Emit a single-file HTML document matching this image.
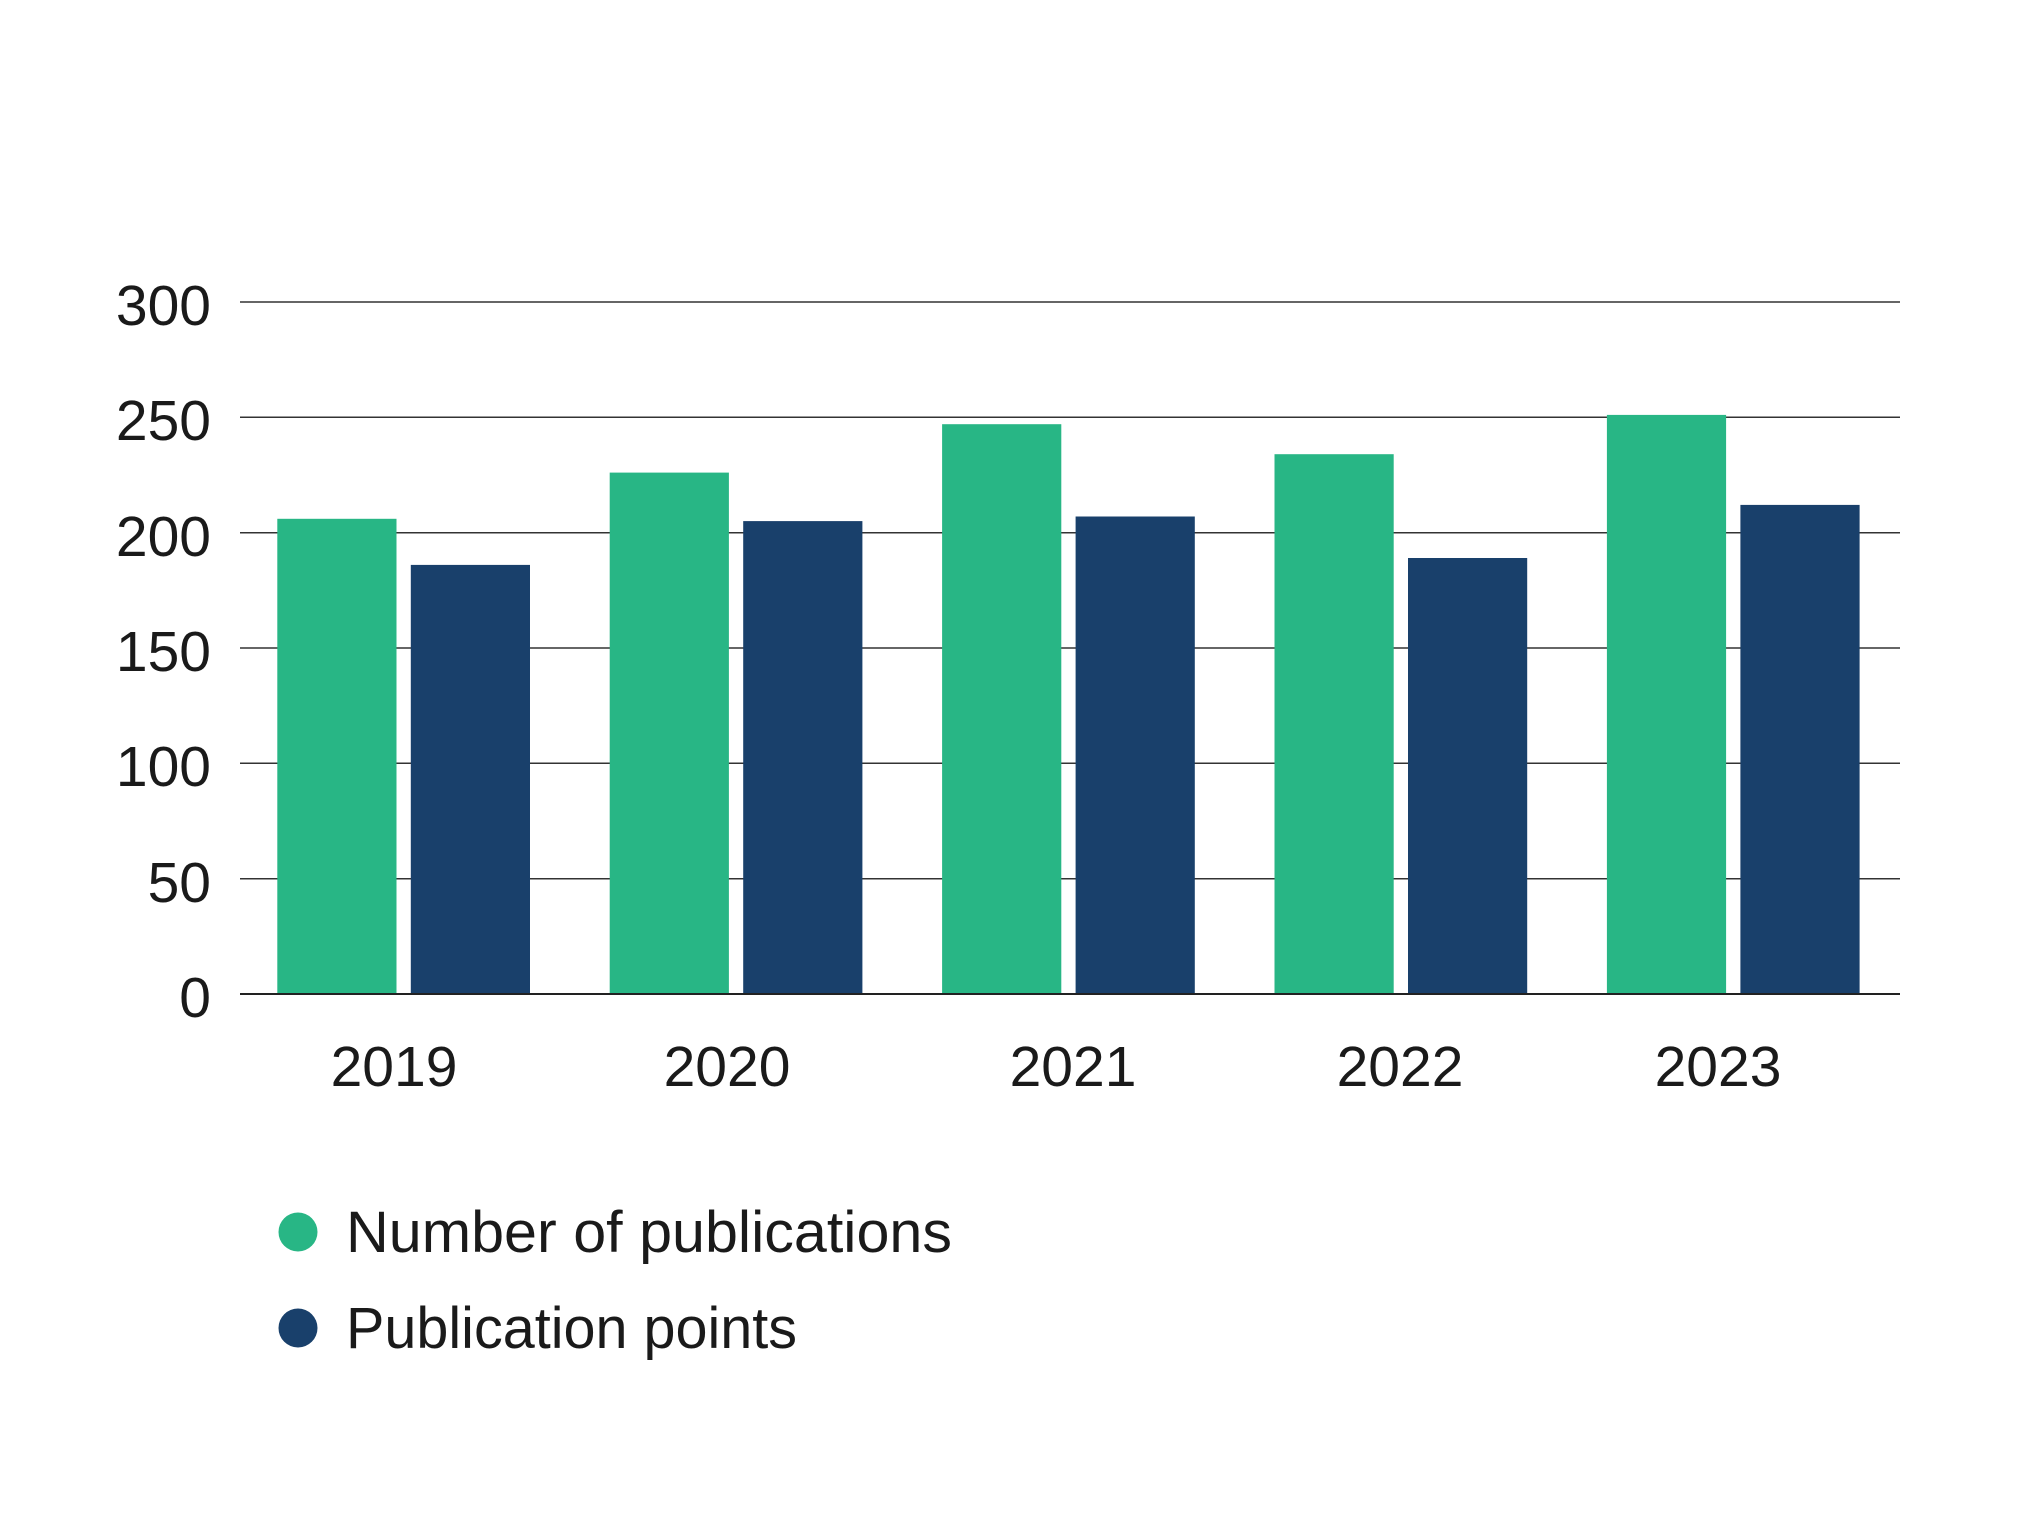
<!DOCTYPE html>
<html><head><style>html,body{margin:0;padding:0;background:#fff}svg{display:block}</style></head>
<body>
<svg width="2031" height="1533" xmlns="http://www.w3.org/2000/svg" font-family="'Liberation Sans', sans-serif" fill="#1a1a1a">
<g stroke="#333" stroke-width="1.5">
<line x1="240" x2="1900" y1="302" y2="302"/>
<line x1="240" x2="1900" y1="417.3" y2="417.3"/>
<line x1="240" x2="1900" y1="532.7" y2="532.7"/>
<line x1="240" x2="1900" y1="648" y2="648"/>
<line x1="240" x2="1900" y1="763.3" y2="763.3"/>
<line x1="240" x2="1900" y1="878.7" y2="878.7"/>
</g>
<g fill="#28b685">
<rect x="277.3" y="518.8" width="119.2" height="475.2"/>
<rect x="609.7" y="472.6" width="119.2" height="521.4"/>
<rect x="942.1" y="424.2" width="119.2" height="569.8"/>
<rect x="1274.5" y="454.2" width="119.2" height="539.8"/>
<rect x="1606.9" y="414.9" width="119.2" height="579.1"/>
</g>
<g fill="#19406b">
<rect x="410.8" y="564.9" width="119.2" height="429.1"/>
<rect x="743.2" y="521.1" width="119.2" height="472.9"/>
<rect x="1075.6" y="516.5" width="119.2" height="477.5"/>
<rect x="1408" y="558" width="119.2" height="436"/>
<rect x="1740.4" y="504.9" width="119.2" height="489.1"/>
</g>
<line x1="240" x2="1900" y1="994" y2="994" stroke="#222" stroke-width="2"/>
<g font-size="57" text-anchor="end">
<text x="211" y="325">300</text>
<text x="211" y="440">250</text>
<text x="211" y="556">200</text>
<text x="211" y="671">150</text>
<text x="211" y="786">100</text>
<text x="211" y="902">50</text>
<text x="211" y="1017">0</text>
</g>
<g font-size="57" text-anchor="middle">
<text x="394" y="1086">2019</text>
<text x="727" y="1086">2020</text>
<text x="1073" y="1086">2021</text>
<text x="1400" y="1086">2022</text>
<text x="1718" y="1086">2023</text>
</g>
<circle cx="298" cy="1232" r="19.5" fill="#28b685"/>
<circle cx="298" cy="1328" r="19.5" fill="#19406b"/>
<g font-size="58">
<text x="346" y="1252" textLength="606" lengthAdjust="spacingAndGlyphs">Number of publications</text>
<text x="346" y="1348" textLength="451" lengthAdjust="spacingAndGlyphs">Publication points</text>
</g>
</svg>
</body></html>
